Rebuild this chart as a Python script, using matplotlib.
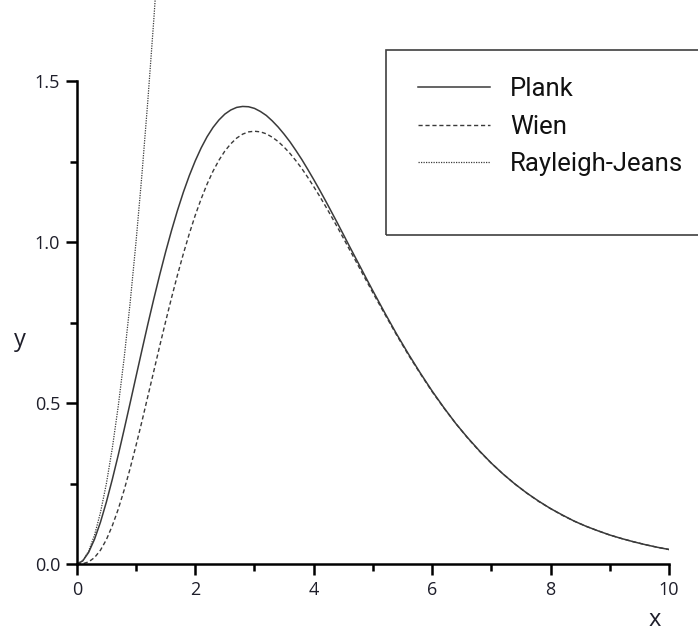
# Planck / Wien / Rayleigh-Jeans radiation curves

import matplotlib.pyplot as plt
from matplotlib.patches import Rectangle

# values
x_vals = [0.0, 0.1, 0.2, 0.3, 0.4, 0.5, 0.6, 0.7, 0.8, 0.9,
          1.0, 1.1, 1.2, 1.3, 1.4, 1.5, 1.6, 1.7, 1.8, 1.9,
          2.0, 2.1, 2.2, 2.3, 2.4, 2.5, 2.6, 2.7, 2.8, 2.9,
          3.0, 3.1, 3.2, 3.3, 3.4, 3.5, 3.6, 3.7, 3.8, 3.9,
          4.0, 4.1, 4.2, 4.3, 4.4, 4.5, 4.6, 4.7, 4.8, 4.9,
          5.0, 5.2, 5.4, 5.6, 5.8,
          6.0, 6.2, 6.4, 6.6, 6.8, 7.0, 7.2, 7.4, 7.6, 7.8,
          8.0, 8.2, 8.4, 8.6, 8.8, 9.0, 9.2, 9.4, 9.6, 9.8, 10.0]
plank = [0.0, 0.0095, 0.036, 0.0772, 0.130, 0.1927, 0.263, 0.3383, 0.418, 0.4995,
         0.582, 0.6641, 0.745, 0.8231, 0.898, 0.9693, 1.036, 1.0981, 1.155, 1.2063,
         1.252, 1.2923, 1.327, 1.3558, 1.379, 1.3973, 1.410, 1.4181, 1.421, 1.4201,
         1.415, 1.4054, 1.393, 1.3762, 1.357, 1.3350, 1.311, 1.2841, 1.256, 1.2255,
         1.194, 1.1615, 1.128, 1.0936, 1.059, 1.0237, 0.988, 0.9530, 0.918, 0.8827,
         0.848, 0.780, 0.714, 0.652, 0.593,
         0.537, 0.485, 0.436, 0.392, 0.351, 0.313, 0.279, 0.248, 0.220, 0.195,
         0.172, 0.152, 0.133, 0.117, 0.103, 0.090, 0.079, 0.069, 0.060, 0.052, 0.045]
wien = [0.0, 0.0009, 0.0066, 0.0200, 0.043, 0.0758, 0.119, 0.1703, 0.230, 0.2964,
        0.368, 0.4431, 0.521, 0.5988, 0.677, 0.7531, 0.827, 0.8975, 0.964, 1.0259,
        1.083, 1.1341, 1.180, 1.2199, 1.254, 1.2826, 1.305, 1.3228, 1.335, 1.3420,
        1.344, 1.3421, 1.336, 1.3255, 1.312, 1.2947, 1.275, 1.2523, 1.228, 1.2007,
        1.172, 1.1422, 1.111, 1.0788, 1.046, 1.0123, 0.978, 0.9443, 0.910, 0.8761,
        0.842, 0.776, 0.711, 0.649, 0.591,
        0.535, 0.484, 0.436, 0.391, 0.350, 0.313, 0.279, 0.248, 0.220, 0.194,
        0.172, 0.151, 0.133, 0.117, 0.103, 0.090, 0.079, 0.069, 0.060, 0.052, 0.045]
rj_x = [0.0, 0.1, 0.2, 0.3, 0.4, 0.5, 0.6, 0.7, 0.8, 0.9, 1.0, 1.1, 1.2, 1.3, 1.4]
rj_y = [0.0, 0.01, 0.04, 0.09, 0.16, 0.25, 0.36, 0.49, 0.64, 0.81, 1.0, 1.21, 1.44, 1.69, 1.96]

x_ticks = [0, 2, 4, 6, 8, 10]
y_ticks = [0.0, 0.5, 1.0, 1.5]
y_tick_labels = ['0.0', '0.5', '1.0', '1.5']

plt.rcParams['font.family'] = ['Open Sans', 'DejaVu Sans']

fig = plt.figure(figsize=(6.98, 6.34), dpi=100)
ax = fig.add_axes([0.110, 0.1104, 0.8486, 0.8896])

line_col = '#3a3a3a'
ax.plot(x_vals, plank, color=line_col, lw=1.1, label='Plank')
ax.plot(x_vals, wien, color=line_col, lw=1.0, ls=(0, (3, 2)), label='Wien')
ax.plot(rj_x, rj_y, color=line_col, lw=0.9, ls=(0, (1, 1)), label='Rayleigh-Jeans')

ax.set_xlim(0, 10)
ax.set_ylim(0, 1.7516)
ax.set_xticks(x_ticks)
ax.set_xticks([1, 3, 5, 7, 9], minor=True)
ax.set_yticks(y_ticks)
ax.set_yticklabels(y_tick_labels)
ax.set_yticks([0.25, 0.75, 1.25], minor=True)

for side in ['top', 'right']:
    ax.spines[side].set_visible(False)
ax.spines['left'].set_bounds(0, 1.5)
ax.spines['left'].set_linewidth(1.8)
ax.spines['bottom'].set_linewidth(1.8)
ax.tick_params(which='major', direction='out', length=8, width=1.8,
               labelsize=13, labelcolor='#1e1e2a', pad=4)
ax.tick_params(which='minor', direction='out', length=5, width=1.8)

fig.text(20 / 698, 1 - 340 / 634, 'y', fontsize=17, ha='center', va='center', color='#1e1e2a')
fig.text(655 / 698, 1 - 620 / 634, 'x', fontsize=17, ha='center', va='center', color='#1e1e2a')

# legend frame runs off the right edge, as in the original
fig.add_artist(Rectangle((386 / 698, 1 - 235 / 634), 0.6, 185 / 634,
                         transform=fig.transFigure, fill=False,
                         edgecolor='#404040', lw=1.2))
leg = ax.legend(loc='upper left', bbox_to_anchor=(418 / 698, 1 - 77 / 634),
                bbox_transform=fig.transFigure, frameon=False,
                prop={'family': ['Roboto', 'DejaVu Sans'], 'size': 18.5},
                handlelength=2.8, handletextpad=0.78, labelspacing=0.53,
                borderpad=0, borderaxespad=0)
for t in leg.get_texts():
    t.set_color('#111111')

fig.savefig('out.png', dpi=100)
plt.close(fig)
